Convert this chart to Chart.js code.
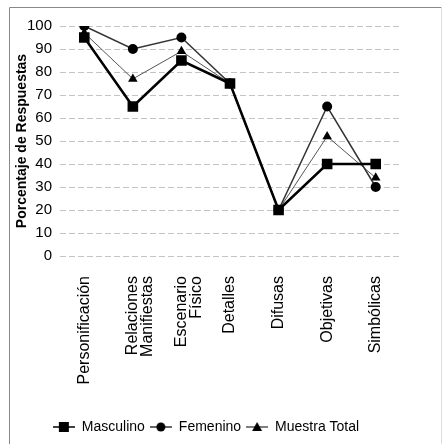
<!DOCTYPE html>
<html><head><meta charset="utf-8">
<script src="https://cdn.jsdelivr.net/npm/chart.js@4"></script>
<style>html,body{margin:0;padding:0;background:#fff}</style>
</head><body><canvas id="c" width="445" height="444"></canvas>
<script>
const categories = ["Personificación", ["Relaciones","Manifiestas"], ["Escenario","Físico"], "Detalles", "Difusas", "Objetivas", "Simbólicas"];
const masculino = [95, 65, 85, 75, 20, 40, 40];
const femenino = [100, 90, 95, 75, 20, 65, 30];
const muestraTotal = [97, 77, 89, 75, 20, 52, 34];
const seriesNames = ["Masculino", "Femenino", "Muestra Total"];
const yMin = 0, yMax = 100, yStep = 10;
const dataArr = [masculino, femenino, muestraTotal];

const styles = ['rect','circle','triangle'];
const lineColors = ['#000','#333','#555'];
const lineWidths = [2.5, 1.5, 1];
const radii = [7.5, 5, 5.5];

function legendIcon(style, color) {
  const cv = document.createElement('canvas');
  cv.width = 22; cv.height = 12;
  const g = cv.getContext('2d');
  g.strokeStyle = color; g.lineWidth = 1.5;
  g.beginPath(); g.moveTo(0,6); g.lineTo(22,6); g.stroke();
  g.fillStyle = '#000';
  if (style === 'rect') g.fillRect(6,1,10,10);
  else if (style === 'circle') { g.beginPath(); g.arc(11,6,4.5,0,Math.PI*2); g.fill(); }
  else { g.beginPath(); g.moveTo(11,1); g.lineTo(16,10); g.lineTo(6,10); g.closePath(); g.fill(); }
  return cv;
}

const framePlugin = {
  id: 'frame',
  beforeDraw(chart) {
    const g = chart.ctx;
    g.save();
    g.lineWidth = 1;
    g.strokeStyle = '#888';
    g.beginPath(); g.moveTo(9.5, 444); g.lineTo(9.5, 7.5); g.lineTo(441.5, 7.5); g.stroke();
    g.strokeStyle = '#ddd';
    g.beginPath(); g.moveTo(441.5, 7.5); g.lineTo(441.5, 444); g.stroke();
    g.restore();
  }
};

new Chart(document.getElementById('c'), {
  type: 'line',
  data: { labels: categories, datasets: seriesNames.map((n,i) => ({
      label: n, data: dataArr[i], borderColor: lineColors[i], borderWidth: lineWidths[i],
      pointStyle: styles[i], pointRadius: radii[i], pointBackgroundColor: '#000', pointBorderColor: '#000',
      pointBorderWidth: 0, tension: 0, fill: false })) },
  plugins: [framePlugin],
  options: {
    responsive: false, animation: false,
    layout: { padding: { left: 12, right: 45, top: 26, bottom: 0 } },
    plugins: {
      tooltip: { enabled: false },
      legend: { position: 'bottom',
        labels: { usePointStyle: true, pointStyleWidth: 22, color: '#000', padding: 5,
          font: { family: "'Liberation Sans', Arial", size: 14 },
          generateLabels: (chart) => chart.data.datasets.map((d,i) => ({
            text: d.label, pointStyle: legendIcon(styles[i], lineColors[i]), datasetIndex: i,
            fillStyle: '#000', strokeStyle: '#000', lineWidth: 0, fontColor: '#000', hidden: false
          })) } }
    },
    scales: {
      x: { offset: true, grid: { display: false }, border: { display: false },
        ticks: { color: '#000', maxRotation: 90, minRotation: 90, autoSkip: false, padding: 12,
          font: { family: "'Liberation Sans', Arial", size: 16, lineHeight: 0.95 } },
        afterFit: (s) => { s.height = 159; } },
      y: { min: yMin, max: yMax, grid: { color: '#c4c4c4', drawTicks: false }, border: { display: false, dash: [6,3] },
        ticks: { stepSize: yStep, autoSkip: false, color: '#000', padding: 8,
          font: { family: "'Liberation Sans', Arial", size: 15 } },
        title: { display: true, text: 'Porcentaje de Respuestas', color: '#000', padding: 2,
          font: { family: "'Liberation Sans', Arial", size: 14, weight: 'bold' } },
        afterFit: (s) => { s.width = 48; } }
    }
  }
});
</script>
</body></html>
